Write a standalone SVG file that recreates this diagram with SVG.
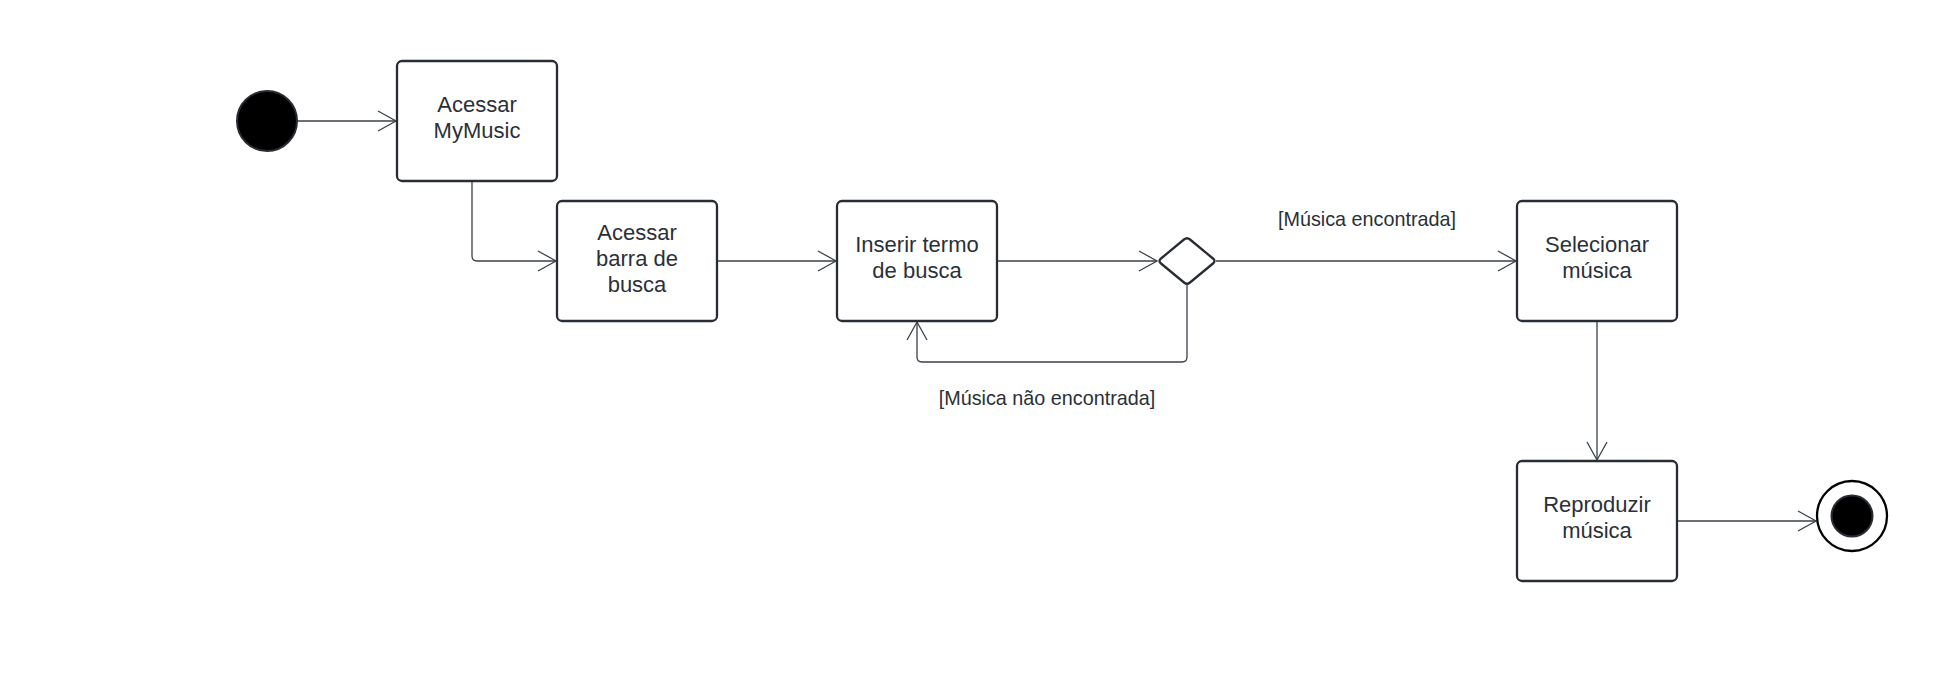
<svg xmlns="http://www.w3.org/2000/svg" width="1948" height="674" viewBox="0 0 1948 674">
  <style>
    .node { fill: #ffffff; stroke: #282c33; stroke-width: 2.3; }
    .txt { font-family: "Liberation Sans", Arial, sans-serif; font-size: 22px; fill: #2b3038; text-anchor: middle; }
    .lbl { font-family: "Liberation Sans", Arial, sans-serif; font-size: 19.8px; fill: #2b3038; text-anchor: middle; }
    .edge { fill: none; stroke: #3a414a; stroke-width: 1.3; }
  </style>
  <defs>
    <marker id="open" markerUnits="userSpaceOnUse" markerWidth="24" markerHeight="24" viewBox="-20 -12 22 24" refX="0" refY="0" orient="auto">
      <path d="M -18 -10 L 0 0 L -18 10" fill="none" stroke="#3a414a" stroke-width="1.3"/>
    </marker>
  </defs>
  <rect width="1948" height="674" fill="#ffffff"/>

  <g id="connectors">
    <path class="edge" d="M 297 121 L 396 121" marker-end="url(#open)"/>
    <path class="edge" d="M 472 182 L 472 256 Q 472 261 477 261 L 556 261" marker-end="url(#open)"/>
    <path class="edge" d="M 717 261 L 836 261" marker-end="url(#open)"/>
    <path class="edge" d="M 997 261 L 1157 261" marker-end="url(#open)"/>
    <path class="edge" d="M 1216 261 L 1516 261" marker-end="url(#open)"/>
    <path class="edge" d="M 1187 285 L 1187 357 Q 1187 362 1182 362 L 922 362 Q 917 362 917 357 L 917 322" marker-end="url(#open)"/>
    <path class="edge" d="M 1597 322 L 1597 460" marker-end="url(#open)"/>
    <path class="edge" d="M 1677 521 L 1816 521" marker-end="url(#open)"/>
    <text class="lbl" x="1367" y="226">[Música encontrada]</text>
    <text class="lbl" x="1047" y="405">[Música não encontrada]</text>
  </g>

  <g id="start">
    <circle cx="267" cy="121" r="30" fill="#000000" stroke="#282c33" stroke-width="2"/>
  </g>

  <g id="acessar-mymusic">
    <rect class="node" x="397" y="61" width="160" height="120" rx="5"/>
    <text class="txt" x="477" y="112">Acessar</text>
    <text class="txt" x="477" y="138">MyMusic</text>
  </g>

  <g id="acessar-barra">
    <rect class="node" x="557" y="201" width="160" height="120" rx="5"/>
    <text class="txt" x="637" y="240">Acessar</text>
    <text class="txt" x="637" y="266">barra de</text>
    <text class="txt" x="637" y="292">busca</text>
  </g>

  <g id="inserir-termo">
    <rect class="node" x="837" y="201" width="160" height="120" rx="5"/>
    <text class="txt" x="917" y="252">Inserir termo</text>
    <text class="txt" x="917" y="278">de busca</text>
  </g>

  <g id="decision">
    <path class="node" stroke-linejoin="round" d="M 1161 258.5 L 1184 239.5 Q 1187 237 1190 239.5 L 1213 258.5 Q 1216 261 1213 263.5 L 1190 282.5 Q 1187 285 1184 282.5 L 1161 263.5 Q 1158 261 1161 258.5 Z"/>
  </g>

  <g id="selecionar-musica">
    <rect class="node" x="1517" y="201" width="160" height="120" rx="5"/>
    <text class="txt" x="1597" y="252">Selecionar</text>
    <text class="txt" x="1597" y="278">música</text>
  </g>

  <g id="reproduzir-musica">
    <rect class="node" x="1517" y="461" width="160" height="120" rx="5"/>
    <text class="txt" x="1597" y="512">Reproduzir</text>
    <text class="txt" x="1597" y="538">música</text>
  </g>

  <g id="end">
    <circle cx="1852" cy="516" r="35" fill="#ffffff" stroke="#000000" stroke-width="2.3"/>
    <circle cx="1852" cy="516" r="20.5" fill="#000000" stroke="#282c33" stroke-width="2"/>
  </g>
</svg>
